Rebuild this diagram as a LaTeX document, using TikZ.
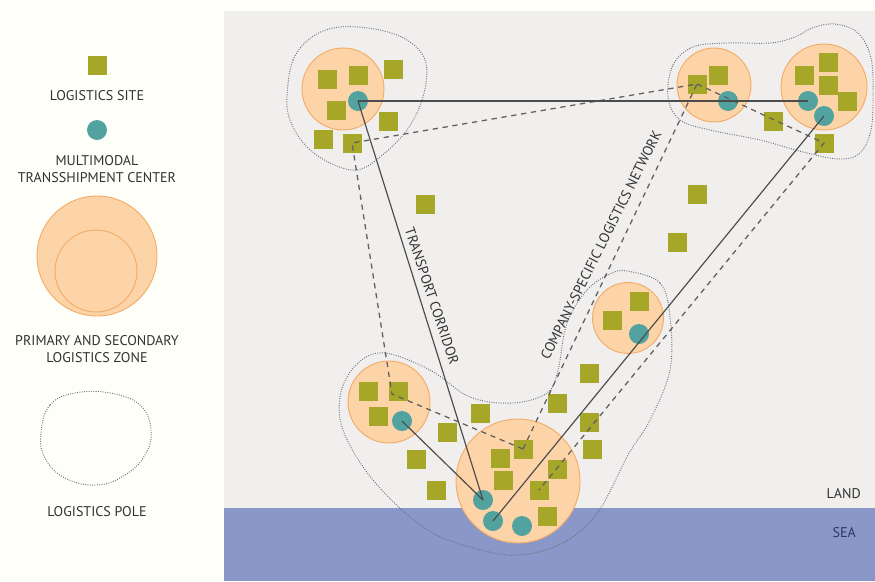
\documentclass[tikz,border=0pt]{standalone}
\usepackage{fontspec}
\setmainfont{PT Sans}
\usetikzlibrary{calc}
\definecolor{landbg}{RGB}{241,239,237}
\definecolor{seabg}{RGB}{137,151,201}
\definecolor{siteol}{RGB}{166,166,40}
\definecolor{hubteal}{RGB}{82,162,160}
\definecolor{zonefill}{RGB}{253,212,168}
\definecolor{zoneline}{RGB}{242,172,104}
\definecolor{inkgray}{RGB}{50,50,50}
\definecolor{polegray}{RGB}{110,112,122}
\definecolor{seaink}{RGB}{45,55,100}
\tikzset{
  site/.style={draw=none,fill=siteol,minimum size=19*0.03cm,inner sep=0pt},
  hub/.style={circle,draw=none,fill=hubteal,minimum size=20*0.03cm,inner sep=0pt},
  zone/.style={circle,fill=zonefill,draw=zoneline,line width=0.8pt,inner sep=0pt},
  pole/.style={draw=polegray,line width=0.8pt,dash pattern=on 0.8pt off 1.2pt},
  corridor/.style={draw=black!70,line width=1pt},
  network/.style={draw=black!62,line width=1.1pt,dash pattern=on 4.5pt off 4pt},
  label/.style={text=inkgray,font=\fontsize{12}{14.5}\selectfont,inner sep=0pt,align=center},
}
\begin{document}
\begin{tikzpicture}[x=0.03cm,y=-0.03cm]
\useasboundingbox (0,0) rectangle (875,581);
% page and map background
\fill[white!98!yellow] (0,0) rectangle (875,581);
\fill[landbg] (224,11) rectangle (875,581);
\fill[seabg] (224,508) rectangle (875,581);
\node[label,anchor=east] (land) at (861,494) {LAND};
\node[label,anchor=east,text=seaink] (sea) at (856,533) {SEA};

% ---------- legend ----------
\node[site] (lgsite) at (97,65) {};
\node[label] (lgsitet) at (97,96) {LOGISTICS SITE};
\node[hub] (lghub) at (97,130) {};
\node[label] (lghubt) at (97,169) {MULTIMODAL\\TRANSSHIPMENT CENTER};
\node[zone,minimum size=120*0.03cm] (lgzone) at (97,256) {};
\node[zone,minimum size=82*0.03cm] (lgzone2) at (96,271) {};
\node[label] (lgzonet) at (97,349) {PRIMARY AND SECONDARY\\LOGISTICS ZONE};
\draw[pole] plot[smooth cycle,tension=0.7] coordinates {(41,433) (50,405) (75,393) (110,393) (140,405) (151,430) (145,455) (125,475) (97,485) (65,478) (45,458)};
\node[label] (lgpolet) at (97,512) {LOGISTICS POLE};

% ---------- logistics poles ----------
\draw[pole] plot[smooth cycle,tension=0.6] coordinates {(287,97) (293,60) (312,37) (340,27) (380,30) (410,42) (426,63) (423,97) (407,130) (380,157) (357,170) (330,163) (305,145) (290,120)};
\draw[pole] plot[smooth cycle,tension=0.6] coordinates {(668,97) (673,65) (693,47) (727,43) (770,43) (795,37) (812,28) (835,24) (858,33) (871,58) (873,95) (871,130) (860,153) (840,159) (807,153) (760,140) (710,130) (680,120)};
\draw[pole] plot[smooth cycle,tension=0.6] coordinates {(627,271) (660,283) (670,317) (670,370) (650,420) (628,455) (598,512) (563,543) (517,555) (470,547) (423,527) (373,480) (343,430) (341,392) (358,363) (385,353) (430,370) (470,397) (513,403) (547,393) (558,370) (567,323) (587,290) (610,274)};

% ---------- logistics zones ----------
\node[zone,minimum size=82*0.03cm] (z1) at (343,89) {};
\node[zone,minimum size=74*0.03cm] (z2) at (714,85) {};
\node[zone,minimum size=86*0.03cm] (z3) at (824,87) {};
\node[zone,minimum size=71*0.03cm] (z4) at (628,318) {};
\node[zone,minimum size=82*0.03cm] (z5) at (389,402) {};
\node[zone,minimum size=124*0.03cm] (z6) at (518,481) {};

% ---------- logistics sites ----------
\foreach \n/\x/\y in {1/327/79,2/358/75,3/393/69,4/336/110,5/388/121,6/323/139,7/352/143,
  8/425/204,9/697/194,10/677/242,
  11/697/84,12/718/75,13/804/75,14/828/62,15/828/85,16/847/101,17/773/121,18/824/143,
  19/639/301,20/612/320,
  21/368/391,22/398/391,23/378/416,
  24/480/413,25/447/432,26/416/459,27/436/490,28/500/458,29/523/449,30/503/480,
  31/539/490,32/557/469,33/547/516,34/557/403,35/589/373,36/589/422,37/592/449}
  \node[site] (s\n) at (\x,\y) {};

% ---------- transshipment centers ----------
\foreach \n/\x/\y in {1/358/101,2/728/101,3/808/101,4/824/116,5/639/334,6/402/421,7/483/500,8/493/521,9/522/526}
  \node[hub] (t\n) at (\x,\y) {};

% ---------- company-specific logistics network ----------
\coordinate (c1) at (392,394);
\draw[network] (s29.center) -- (s11.center) -- (s7.center) -- (c1) -- (s29.center);
\draw[network] (s11.center) -- (s18.center) -- (s31.center);

% ---------- transport corridors ----------
\draw[corridor] (t1.center) -- (t3.center);
\draw[corridor] (t1.center) -- (t7.center);
\draw[corridor] (t6.center) -- (t7.center);
\draw[corridor] (t8.center) -- (t4.center);

% ---------- corridor and network labels ----------
\node[label,rotate=-71.5] (tclabel) at (432,296) {TRANSPORT CORRIDOR};
\node[label,rotate=63.5] (cnlabel) at (601,245) {COMPANY-SPECIFIC LOGISTICS NETWORK};
\end{tikzpicture}
\end{document}
